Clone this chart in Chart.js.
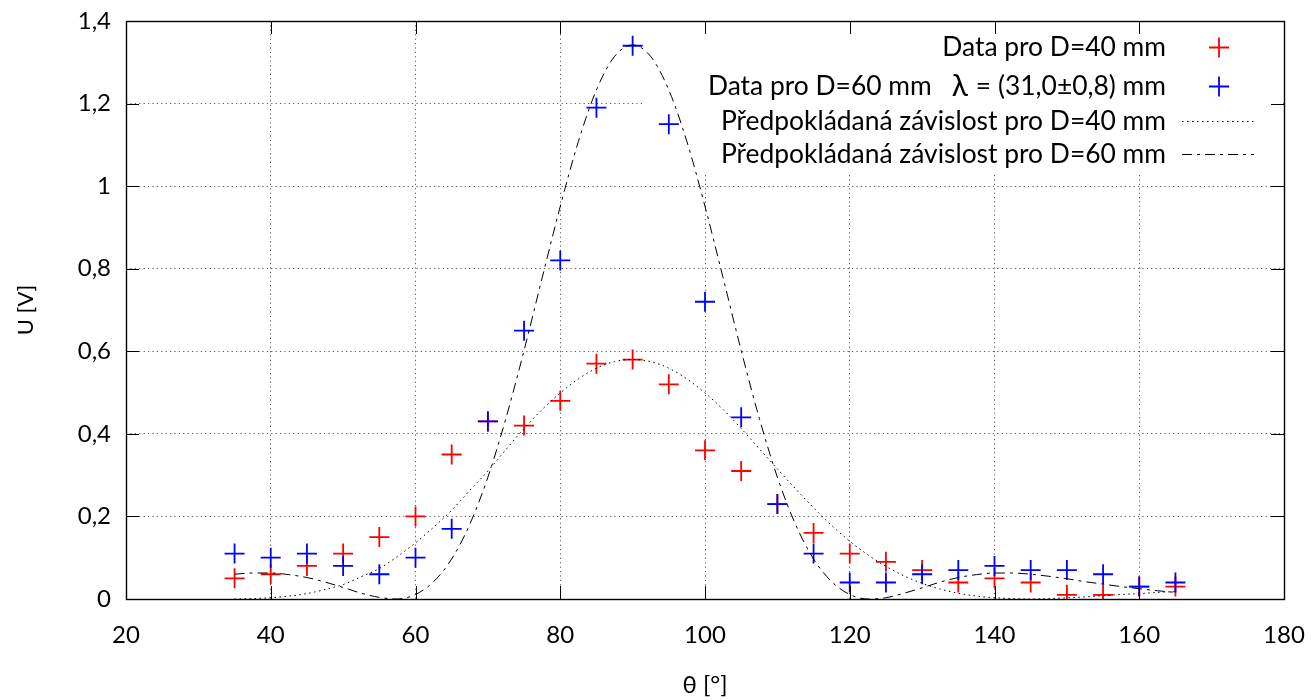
<!DOCTYPE html>
<html>
<head>
<meta charset="utf-8">
<script src="https://cdn.jsdelivr.net/npm/chart.js@4.4.0/dist/chart.umd.min.js"></script>
<style>
html,body{margin:0;padding:0;background:#fff;}
#wrap{width:1311px;height:700px;position:relative;}
</style>
</head>
<body>
<div id="wrap"><canvas id="c" width="1311" height="700"></canvas></div>
<script>
// ---- data ----
const angles = [35,40,45,50,55,60,65,70,75,80,85,90,95,100,105,110,115,120,125,130,135,140,145,150,155,160,165];
const u40 = [0.05,0.06,0.08,0.11,0.15,0.20,0.35,0.43,0.42,0.48,0.57,0.58,0.52,0.36,0.31,0.23,0.16,0.11,0.09,0.07,0.04,0.05,0.04,0.01,0.01,0.03,0.03];
const u60 = [0.11,0.10,0.11,0.08,0.06,0.10,0.17,0.43,0.65,0.82,1.19,1.34,1.15,0.72,0.44,0.23,0.11,0.04,0.04,0.06,0.07,0.08,0.07,0.07,0.06,0.03,0.04];

const curveAngles = [35,37.5,40,42.5,45,47.5,50,52.5,55,57.5,60,62.5,65,67.5,70,72.5,75,77.5,80,82.5,85,87.5,90,92.5,95,97.5,100,102.5,105,107.5,110,112.5,115,117.5,120,122.5,125,127.5,130,132.5,135,137.5,140,142.5,145,147.5,150,152.5,155,157.5,160,162.5,165];
const fit40 = [0,0.001,0.003,0.007,0.013,0.023,0.035,0.054,0.074,0.103,0.136,0.174,0.215,0.263,0.310,0.362,0.413,0.459,0.499,0.533,0.559,0.575,0.580,0.575,0.559,0.533,0.499,0.459,0.413,0.364,0.315,0.267,0.221,0.178,0.140,0.107,0.079,0.056,0.038,0.024,0.014,0.007,0.003,0.001,0,0.001,0.003,0.005,0.008,0.011,0.013,0.016,0.018];
const fit60 = [0.060,0.063,0.063,0.059,0.052,0.041,0.028,0.014,0.004,0,0.011,0.042,0.097,0.181,0.295,0.438,0.602,0.778,0.951,1.108,1.233,1.314,1.342,1.314,1.233,1.108,0.951,0.778,0.602,0.438,0.295,0.181,0.097,0.042,0.011,0,0.003,0.014,0.027,0.041,0.052,0.059,0.063,0.063,0.060,0.055,0.049,0.042,0.036,0.030,0.025,0.020,0.016];

const yTickLabels = ['0','0,2','0,4','0,6','0,8','1','1,2','1,4'];
const xTitle = 'θ [°]';
const yTitle = 'U [V]';
const legendRow1 = 'Data pro D=40 mm';
const legendRow2a = 'Data pro D=60 mm';
const legendRow2b = 'λ';
const legendRow2c = '= (31,0±0,8) mm';
const legendRow3 = 'Předpokládaná závislost pro D=40 mm';
const legendRow4 = 'Předpokládaná závislost pro D=60 mm';

const RED = 'rgb(255,0,0)';
const BLUE = 'rgb(0,0,255)';
const FONT = 'Lato';

const pts = (xs, ys) => xs.map((x, i) => ({x: x, y: ys[i]}));

// ---- plugin: legend box, frame, inward ticks, legend ----
const gnuplotDecor = {
  id: 'gnuplotDecor',
  beforeDatasetsDraw(chart) {
    const ctx = chart.ctx;
    ctx.save();
    ctx.fillStyle = '#fff';
    ctx.fillRect(643, 22, 640, 150);
    ctx.restore();
  },
  afterDatasetsDraw(chart) {
    const ctx = chart.ctx;
    const a = chart.chartArea;
    const xs = chart.scales.x, ys = chart.scales.y;
    ctx.save();
    ctx.strokeStyle = '#000';
    ctx.lineWidth = 1;
    ctx.beginPath();
    xs.ticks.forEach(t => {
      const p = Math.round(xs.getPixelForValue(t.value)) + 0.5;
      ctx.moveTo(p, a.bottom); ctx.lineTo(p, a.bottom - 13);
      ctx.moveTo(p, a.top); ctx.lineTo(p, a.top + 13);
    });
    ys.ticks.forEach(t => {
      const p = Math.round(ys.getPixelForValue(t.value)) + 0.5;
      ctx.moveTo(a.left, p); ctx.lineTo(a.left + 13, p);
      ctx.moveTo(a.right, p); ctx.lineTo(a.right - 13, p);
    });
    ctx.stroke();
    ctx.lineWidth = 1.4;
    ctx.strokeRect(Math.round(a.left) + 0.5, Math.round(a.top) + 0.5, Math.round(a.right - a.left), Math.round(a.bottom - a.top));

    // legend
    const fs = 26.4;
    ctx.fillStyle = '#000';
    ctx.textBaseline = 'middle';
    ctx.textAlign = 'right';
    ctx.font = fs + 'px ' + FONT;
    const rx = 1166;
    const rows = [47.5, 86.5, 121, 154];
    ctx.fillText(legendRow1, rx, rows[0]);
    ctx.fillText(legendRow2c, rx, rows[1]);
    const w2c = ctx.measureText(legendRow2c).width;
    ctx.font = '30px ' + FONT;
    ctx.fillText(legendRow2b, rx - w2c - 8, rows[1]);
    const w2b = ctx.measureText(legendRow2b).width;
    ctx.font = fs + 'px ' + FONT;
    ctx.fillText(legendRow2a, rx - w2c - 8 - w2b - 20, rows[1]);
    ctx.fillText(legendRow3, rx, rows[2]);
    ctx.fillText(legendRow4, rx, rows[3]);

    // samples
    const mx = 1219;
    const drawPlus = (cx, cy, col) => {
      ctx.strokeStyle = col; ctx.lineWidth = 1.8;
      ctx.beginPath();
      ctx.moveTo(cx - 10, cy); ctx.lineTo(cx + 10, cy);
      ctx.moveTo(cx, cy - 10); ctx.lineTo(cx, cy + 10);
      ctx.stroke();
    };
    drawPlus(mx, rows[0], RED);
    drawPlus(mx, rows[1], BLUE);
    ctx.strokeStyle = '#000'; ctx.lineWidth = 1;
    ctx.setLineDash([1.5, 3.5]);
    ctx.beginPath(); ctx.moveTo(1182, rows[2] + 0.5); ctx.lineTo(1254, rows[2] + 0.5); ctx.stroke();
    ctx.setLineDash([10, 5, 3, 5]);
    ctx.beginPath(); ctx.moveTo(1182, rows[3] + 0.5); ctx.lineTo(1254, rows[3] + 0.5); ctx.stroke();
    ctx.restore();
  }
};

const tickFont = {family: FONT, size: 24};
const CLEAR = 'rgba(0,0,0,0)';

new Chart(document.getElementById('c'), {
  type: 'scatter',
  data: {
    datasets: [
      {label: legendRow1, data: pts(angles, u40), pointStyle: 'cross', pointRadius: 10, pointBorderWidth: 1.8, borderColor: RED, backgroundColor: RED, order: 4},
      {label: legendRow2a, data: pts(angles, u60), pointStyle: 'cross', pointRadius: 10, pointBorderWidth: 1.8, borderColor: BLUE, backgroundColor: BLUE, order: 3},
      {label: legendRow3, data: pts(curveAngles, fit40), showLine: true, pointRadius: 0, borderColor: '#000', borderWidth: 1, borderDash: [1.5, 3.5], cubicInterpolationMode: 'monotone', order: 2},
      {label: legendRow4, data: pts(curveAngles, fit60), showLine: true, pointRadius: 0, borderColor: '#000', borderWidth: 1, borderDash: [10, 5, 3, 5], cubicInterpolationMode: 'monotone', order: 1}
    ]
  },
  options: {
    responsive: false,
    animation: false,
    devicePixelRatio: 1,
    layout: {autoPadding: false, padding: {left: 0, right: 27, top: 21, bottom: 0}},
    plugins: {legend: {display: false}, tooltip: {enabled: false}},
    scales: {
      x: {
        type: 'linear', min: 20, max: 180,
        ticks: {stepSize: 20, padding: 0, font: tickFont, color: '#000', maxRotation: 0, autoSkip: false},
        grid: {color: 'rgba(0,0,0,0.65)', lineWidth: 1, drawTicks: true, tickLength: 22, tickColor: CLEAR},
        border: {display: false, dash: [1.2, 3.2]},
        title: {display: true, text: xTitle, font: {family: FONT, size: 24}, color: '#000', padding: {top: 0, bottom: 0}},
        afterFit(s) { s.height = 101; }
      },
      y: {
        type: 'linear', min: 0, max: 1.4,
        ticks: {stepSize: 0.2, padding: 0, font: tickFont, color: '#000', callback: (v, i) => yTickLabels[i]},
        grid: {color: 'rgba(0,0,0,0.65)', lineWidth: 1, drawTicks: true, tickLength: 15, tickColor: CLEAR},
        border: {display: false, dash: [1.2, 3.2]},
        title: {display: true, text: yTitle, font: {family: FONT, size: 22}, color: '#000', padding: {top: 13, bottom: 0}},
        afterFit(s) { s.width = 126; }
      }
    }
  },
  plugins: [gnuplotDecor]
});
</script>
</body>
</html>
